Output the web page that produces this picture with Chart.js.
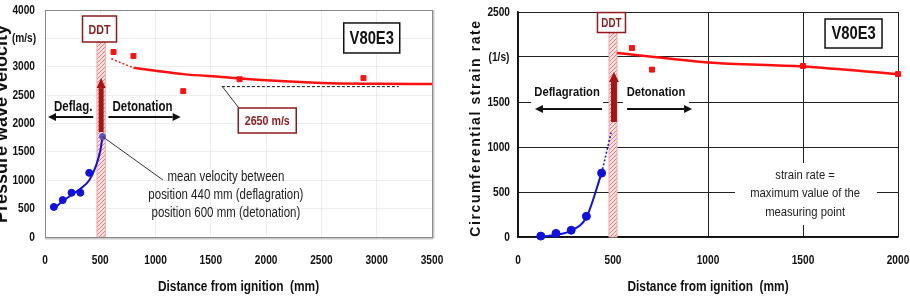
<!DOCTYPE html>
<html>
<head>
<meta charset="utf-8">
<script src="https://cdn.jsdelivr.net/npm/chart.js@4/dist/chart.umd.min.js"></script>
<style>
    html, body { margin: 0; padding: 0; background: #fff; }
    #wrap { position: relative; width: 910px; height: 302px; overflow: hidden; }
    #velBox { position: absolute; left: 0; top: 0; width: 455px; height: 302px; }
    #srBox { position: absolute; left: 455px; top: 0; width: 455px; height: 302px; }
</style>
</head>
<body>
<div id="wrap">
    <div id="velBox"><canvas id="velChart" width="455" height="302"></canvas></div>
    <div id="srBox"><canvas id="srChart" width="455" height="302"></canvas></div>
</div>
<script>
// ---- left: pressure wave velocity (m/s) vs distance (mm) ----
const velDeflagDist = [80, 160, 240, 320, 400];
const velDeflagVal = [530, 650, 780, 780, 1130];
const velMeanDist = [520];
const velMeanVal = [1770];
const velDetonDist = [620, 800, 1250, 1760, 2880];
const velDetonVal = [3260, 3190, 2570, 2780, 2800];
const velDeflagFitDist = [75, 160, 240, 320, 400, 460, 500, 520];
const velDeflagFitVal = [490, 630, 740, 850, 1000, 1250, 1520, 1770];
const velDetonGuessDist = [600, 800];
const velDetonGuessVal = [3140, 2980];
const velDetonFitDist = [800, 1000, 1250, 1600, 2000, 2500, 3000, 3500];
const velDetonFitVal = [2980, 2930, 2870, 2820, 2760, 2714, 2700, 2695];
const velCjDist = [1600, 3200];
const velCjVal = [2650, 2650];

// ---- right: circumferential strain rate (1/s) vs distance (mm) ----
const srDeflagDist = [120, 200, 280, 360, 440];
const srDeflagVal = [10, 40, 75, 230, 710];
const srDetonDist = [600, 705, 1500, 2000];
const srDetonVal = [2100, 1860, 1900, 1810];
const srDeflagFitDist = [105, 200, 280, 360, 440];
const srDeflagFitVal = [0, 25, 70, 220, 710];
const srDeflagGuessDist = [440, 490];
const srDeflagGuessVal = [710, 1160];
const srDetonFitDist = [520, 1000, 1500, 2000];
const srDetonFitVal = [2045, 1940, 1895, 1810];

const FONT = "'Liberation Sans', Arial, sans-serif";
const SQUEEZE = 0.82; // the source uses a narrow face
const DARK_RED = '#8e1b1b';
const RED = '#ff1010';
const BLUE = '#1010e0';

const pts = (xs, ys) => xs.map((x, i) => ({ x: x, y: ys[i] }));

function hatchPattern(ctx) {
    const p = document.createElement('canvas');
    p.width = 4; p.height = 4;
    const c = p.getContext('2d');
    c.fillStyle = '#fde2e2';
    c.fillRect(0, 0, 4, 4);
    c.strokeStyle = '#ec7c7c';
    c.lineWidth = 1;
    c.beginPath();
    c.moveTo(0, 4); c.lineTo(4, 0);
    c.moveTo(-1, 1); c.lineTo(1, -1);
    c.moveTo(3, 5); c.lineTo(5, 3);
    c.stroke();
    return ctx.createPattern(p, 'repeat');
}

function arrow(ctx, x1, y1, x2, y2, color, lw, hl, hw) {
    const a = Math.atan2(y2 - y1, x2 - x1);
    const bx = x2 - hl * Math.cos(a), by = y2 - hl * Math.sin(a);
    ctx.save();
    ctx.strokeStyle = color;
    ctx.fillStyle = color;
    ctx.lineWidth = lw;
    ctx.beginPath(); ctx.moveTo(x1, y1); ctx.lineTo(bx, by); ctx.stroke();
    ctx.beginPath();
    ctx.moveTo(x2, y2);
    ctx.lineTo(bx + hw / 2 * Math.sin(a), by - hw / 2 * Math.cos(a));
    ctx.lineTo(bx - hw / 2 * Math.sin(a), by + hw / 2 * Math.cos(a));
    ctx.closePath();
    ctx.fill();
    ctx.restore();
}

// narrow text: squeeze horizontally around the anchor
function text(ctx, str, x, y, font, color, align, squeeze) {
    ctx.save();
    ctx.translate(x, y);
    ctx.scale(squeeze || SQUEEZE, 1);
    ctx.font = font;
    ctx.fillStyle = color || '#111';
    ctx.textAlign = align || 'center';
    ctx.textBaseline = 'middle';
    ctx.fillText(str, 0, 0);
    ctx.restore();
}

function labelBox(ctx, cx, cy, w, h, str, font, color, lw) {
    ctx.save();
    ctx.fillStyle = '#fff';
    ctx.fillRect(cx - w / 2, cy - h / 2, w, h);
    ctx.strokeStyle = color;
    ctx.lineWidth = lw;
    ctx.strokeRect(cx - w / 2, cy - h / 2, w, h);
    ctx.restore();
    text(ctx, str, cx, cy + 1, font, color);
}

function line(ctx, x1, y1, x2, y2, color, lw) {
    ctx.save();
    ctx.strokeStyle = color;
    ctx.lineWidth = lw;
    ctx.beginPath(); ctx.moveTo(x1, y1); ctx.lineTo(x2, y2); ctx.stroke();
    ctx.restore();
}

function vTitle(ctx, str, x, y, font, spacing) {
    ctx.save();
    ctx.translate(x, y);
    ctx.rotate(-Math.PI / 2);
    ctx.font = font;
    ctx.letterSpacing = spacing || '0px';
    ctx.fillStyle = '#111';
    ctx.textAlign = 'center';
    ctx.textBaseline = 'alphabetic';
    ctx.fillText(str, 0, 0);
    ctx.restore();
}

function ddtBand(chart, x1, x2, topPx) {
    const ctx = chart.ctx, xs = chart.scales.x, a = chart.chartArea;
    const l = xs.getPixelForValue(x1), r = xs.getPixelForValue(x2);
    ctx.save();
    ctx.fillStyle = hatchPattern(ctx);
    ctx.fillRect(l, topPx, r - l, a.bottom - topPx);
    ctx.strokeStyle = '#f3a6a6';
    ctx.lineWidth = 1;
    ctx.strokeRect(l, topPx, r - l, a.bottom - topPx);
    ctx.restore();
}

// tick labels drawn from the scales' own ticks, in the narrow style;
// the unit label sits in place of one tick, centred on the number column
function tickLabels(chart, yPad, unitAt, unit) {
    const ctx = chart.ctx, a = chart.chartArea, x = chart.scales.x, y = chart.scales.y;
    const f = 'bold 13px ' + FONT;
    x.ticks.forEach(t => text(ctx, String(t.value), x.getPixelForValue(t.value), 260, f, '#111', 'center', 0.78));
    y.ticks.forEach(t => {
        const py = y.getPixelForValue(t.value);
        if (t.value === unitAt) text(ctx, unit, a.left - yPad - 11, py, f, '#111', 'center', 0.78);
        else text(ctx, String(t.value), a.left - yPad, py, f, '#111', 'right', 0.78);
    });
}

// ---------------- left chart ----------------
const velNotes = {
    id: 'velNotes',
    beforeDatasetsDraw(chart) {
        const y = chart.scales.y;
        ddtBand(chart, 470, 545, y.getPixelForValue(3665) + 13);
    },
    afterDatasetsDraw(chart) {
        const ctx = chart.ctx, x = chart.scales.x, y = chart.scales.y, a = chart.chartArea;
        const X = v => x.getPixelForValue(v), Y = v => y.getPixelForValue(v);

        // frame with soft shadow
        line(ctx, a.left, a.bottom + 1.5, a.right + 1.5, a.bottom + 1.5, '#c8c8c8', 2);
        line(ctx, a.right + 1.5, a.top, a.right + 1.5, a.bottom + 1.5, '#c8c8c8', 2);
        ctx.save();
        ctx.strokeStyle = '#8a8a8a';
        ctx.lineWidth = 1;
        ctx.strokeRect(a.left + 0.5, a.top + 0.5, a.right - a.left, a.bottom - a.top);
        ctx.restore();

        tickLabels(chart, 10, 3500, '(m/s)');

        labelBox(ctx, X(493), Y(3665), 34, 26, 'DDT', 'bold 13px ' + FONT, DARK_RED, 1.5);
        arrow(ctx, X(508), Y(1850), X(508), Y(2800), '#a81414', 5, 10, 9);

        text(ctx, 'Deflag.', X(255), Y(2290), 'bold 14px ' + FONT);
        arrow(ctx, X(436), Y(2115), X(27), Y(2115), '#111', 2, 8, 8);
        text(ctx, 'Detonation', X(882), Y(2290), 'bold 14px ' + FONT);
        arrow(ctx, X(573), Y(2115), X(1227), Y(2115), '#111', 2, 8, 8);

        labelBox(ctx, X(2955), Y(3507), 56, 30, 'V80E3', 'bold 18px ' + FONT, '#111', 1.5);

        line(ctx, X(1600), Y(2660), X(2010) - 28, Y(2053) - 12, '#333', 1);
        labelBox(ctx, X(2010), Y(2053), 58, 25, '2650 m/s', 'bold 13px ' + FONT, DARK_RED, 1.5);

        line(ctx, X(520), Y(1770), X(1067), Y(1004), '#333', 1);
        const note = ['mean velocity between', 'position 440 mm (deflagration)', 'position 600 mm (detonation)'];
        [1057, 740, 423].forEach((v, i) => text(ctx, note[i], X(1636), Y(v), '14px ' + FONT, '#222'));

        vTitle(ctx, 'Pressure wave velocity', 7, 124, 'bold 18px ' + FONT);
        text(ctx, 'Distance from ignition  (mm)', (a.left + a.right) / 2, 287, 'bold 14.5px ' + FONT);
    }
};

new Chart(document.getElementById('velChart'), {
    type: 'scatter',
    data: {
        datasets: [
            { data: pts(velMeanDist, velMeanVal), backgroundColor: '#5a4fc8', borderColor: '#5a4fc8', pointRadius: 3, clip: false },
            { data: pts(velDeflagDist, velDeflagVal), backgroundColor: BLUE, borderColor: BLUE, pointRadius: 3.5 },
            { data: pts(velDetonDist, velDetonVal), backgroundColor: RED, borderColor: RED, pointStyle: 'rect', pointRadius: 3.5 },
            { data: pts(velDeflagFitDist, velDeflagFitVal), showLine: true, borderColor: BLUE, borderWidth: 2, pointRadius: 0, cubicInterpolationMode: 'monotone' },
            { data: pts(velDetonGuessDist, velDetonGuessVal), showLine: true, borderColor: RED, borderWidth: 1.5, borderDash: [2, 2], pointRadius: 0 },
            { data: pts(velDetonFitDist, velDetonFitVal), showLine: true, borderColor: RED, borderWidth: 2.5, pointRadius: 0, cubicInterpolationMode: 'monotone' },
            { data: pts(velCjDist, velCjVal), showLine: true, borderColor: '#111', borderWidth: 1, borderDash: [3, 2], pointRadius: 0 }
        ]
    },
    options: {
        responsive: false,
        animation: false,
        events: [],
        layout: { padding: { left: 0, top: 10, right: 23, bottom: 0 } },
        plugins: { legend: { display: false }, tooltip: { enabled: false } },
        scales: {
            x: {
                type: 'linear', min: 0, max: 3500,
                ticks: { stepSize: 500, display: false },
                grid: { color: 'rgba(0,0,0,0.07)', drawTicks: false },
                border: { display: false },
                afterFit: s => { s.height = 65; s.paddingLeft = 0; s.paddingRight = 0; }
            },
            y: {
                type: 'linear', min: 0, max: 4000,
                ticks: { stepSize: 500, display: false },
                grid: { color: 'rgba(0,0,0,0.07)', drawTicks: false },
                border: { display: false },
                afterFit: s => { s.width = 45; s.paddingTop = 0; s.paddingBottom = 0; }
            }
        }
    },
    plugins: [velNotes]
});

// ---------------- right chart ----------------
const srNotes = {
    id: 'srNotes',
    beforeDatasetsDraw(chart) {
        const ctx = chart.ctx, x = chart.scales.x, y = chart.scales.y;
        const X = v => x.getPixelForValue(v), Y = v => y.getPixelForValue(v);
        ddtBand(chart, 479, 521, Y(2383) + 10);
        ctx.save();
        ctx.fillStyle = '#fff';
        ctx.fillRect(X(258) - 36, Y(1611) - 11, 72, 24);
        ctx.fillRect(X(726) - 33, Y(1611) - 11, 66, 24);
        ctx.fillRect(X(1142), Y(822), X(1889) - X(1142), Y(133) - Y(822));
        ctx.restore();
    },
    afterDatasetsDraw(chart) {
        const ctx = chart.ctx, x = chart.scales.x, y = chart.scales.y, a = chart.chartArea;
        const X = v => x.getPixelForValue(v), Y = v => y.getPixelForValue(v);

        tickLabels(chart, 8, 2000, '(1/s)');

        labelBox(ctx, X(492), Y(2383), 28, 20, 'DDT', 'bold 12px ' + FONT, DARK_RED, 1.5);
        arrow(ctx, X(505), Y(1278), X(505), Y(1833), '#a81414', 6, 10, 10);

        text(ctx, 'Deflagration', X(258), Y(1611), 'bold 13.7px ' + FONT);
        arrow(ctx, X(442), Y(1422), X(89), Y(1422), '#111', 2, 8, 8);
        text(ctx, 'Detonation', X(726), Y(1611), 'bold 13.7px ' + FONT);
        arrow(ctx, X(574), Y(1422), X(916), Y(1422), '#111', 2, 8, 8);

        labelBox(ctx, X(1766), Y(2261), 57, 29, 'V80E3', 'bold 18px ' + FONT, '#111', 1.5);

        const note = ['strain rate =', 'maximum value of the', 'measuring point'];
        [689, 489, 278].forEach((v, i) => text(ctx, note[i], X(1511), Y(v), '13.7px ' + FONT, '#222'));

        vTitle(ctx, 'Circumferential strain rate', 25, 128, 'bold 14px ' + FONT, '1.6px');
        text(ctx, 'Distance from ignition  (mm)', (a.left + a.right) / 2, 287, 'bold 14.5px ' + FONT);
    }
};

new Chart(document.getElementById('srChart'), {
    type: 'scatter',
    data: {
        datasets: [
            { data: pts(srDeflagDist, srDeflagVal), backgroundColor: BLUE, borderColor: BLUE, pointRadius: 4, clip: false },
            { data: pts(srDetonDist, srDetonVal), backgroundColor: RED, borderColor: RED, pointStyle: 'rect', pointRadius: 3.5, clip: false },
            { data: pts(srDeflagFitDist, srDeflagFitVal), showLine: true, borderColor: BLUE, borderWidth: 2, pointRadius: 0, cubicInterpolationMode: 'monotone' },
            { data: pts(srDeflagGuessDist, srDeflagGuessVal), showLine: true, borderColor: BLUE, borderWidth: 1.5, borderDash: [2, 2], pointRadius: 0 },
            { data: pts(srDetonFitDist, srDetonFitVal), showLine: true, borderColor: RED, borderWidth: 2.5, pointRadius: 0, cubicInterpolationMode: 'monotone' }
        ]
    },
    options: {
        responsive: false,
        animation: false,
        events: [],
        layout: { padding: { left: 0, top: 12, right: 12, bottom: 0 } },
        plugins: { legend: { display: false }, tooltip: { enabled: false } },
        scales: {
            x: {
                type: 'linear', min: 0, max: 2000,
                ticks: { stepSize: 500, display: false },
                grid: { color: '#222', lineWidth: 1, drawTicks: false },
                border: { color: '#111', width: 1.5 },
                afterFit: s => { s.height = 65; s.paddingLeft = 0; s.paddingRight = 0; }
            },
            y: {
                type: 'linear', min: 0, max: 2500,
                ticks: { stepSize: 500, display: false },
                grid: { color: '#222', lineWidth: 1, drawTicks: false },
                border: { color: '#111', width: 1.5 },
                afterFit: s => { s.width = 63; s.paddingTop = 0; s.paddingBottom = 0; }
            }
        }
    },
    plugins: [srNotes]
});
</script>
</body>
</html>
